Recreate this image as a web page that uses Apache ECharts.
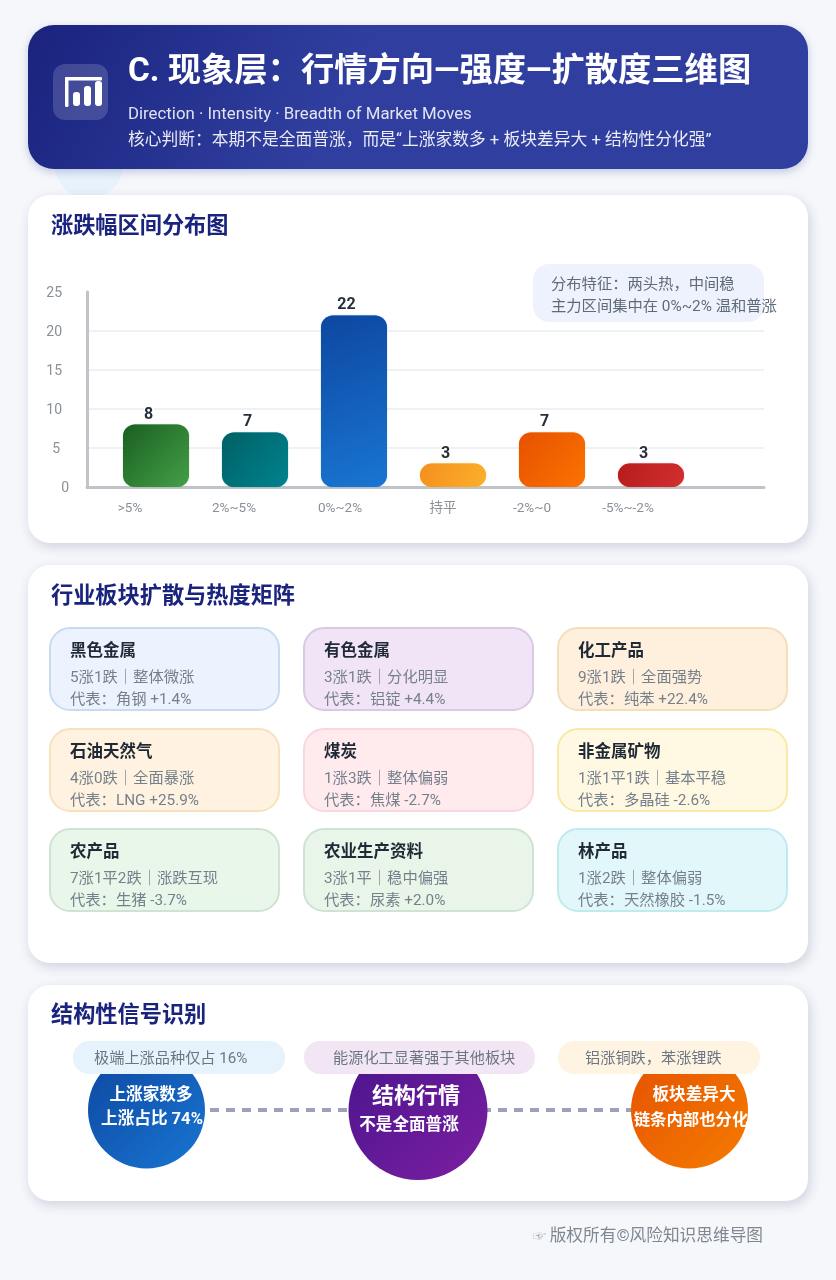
<!DOCTYPE html>
<html>
<head>
<meta charset="utf-8">
<title>行情方向-强度-扩散度三维图</title>
<script src="https://cdn.jsdelivr.net/npm/echarts@6/dist/echarts.min.js"></script>
<style>
  html, body { margin: 0; padding: 0; background: #f5f7fb; }
  #main { width: 836px; height: 1280px; }
</style>
</head>
<body>
<div id="main"></div>
<script>
// 涨跌幅区间
const categories = ['>5%', '2%~5%', '0%~2%', '持平', '-2%~0', '-5%~-2%']
const counts = [8, 7, 22, 3, 7, 3]
const yTicks = [0, 5, 10, 15, 20, 25]
const barColors = [
  ['#1b5e20', '#43a047'],
  ['#006064', '#00838f'],
  ['#0d47a1', '#1976d2'],
  ['#f58f1f', '#fbb02a'],
  ['#e65100', '#fb7300'],
  ['#b71c1c', '#d32f2f']
]

// 行业板块
const sectorNames = ['黑色金属', '有色金属', '化工产品', '石油天然气', '煤炭', '非金属矿物', '农产品', '农业生产资料', '林产品']
const sectorStats = ['5涨1跌｜整体微涨', '3涨1跌｜分化明显', '9涨1跌｜全面强势', '4涨0跌｜全面暴涨', '1涨3跌｜整体偏弱', '1涨1平1跌｜基本平稳', '7涨1平2跌｜涨跌互现', '3涨1平｜稳中偏强', '1涨2跌｜整体偏弱']
const sectorReps = ['代表：角钢 +1.4%', '代表：铝锭 +4.4%', '代表：纯苯 +22.4%', '代表：LNG +25.9%', '代表：焦煤 -2.7%', '代表：多晶硅 -2.6%', '代表：生猪 -3.7%', '代表：尿素 +2.0%', '代表：天然橡胶 -1.5%']
const sectorFills = ['#ecf3fe', '#f1e4f6', '#fff0dd', '#fff2e1', '#ffeaee', '#fff9e3', '#e9f6ea', '#e9f5e9', '#e2f7fa']
const sectorBorders = ['#c8dcf0', '#d9c9e2', '#f3dfb9', '#f6e2bf', '#f8d7de', '#f8e9a8', '#cfe3d4', '#cfe3d4', '#bfeaee']

// 结构性信号
const pillTexts = ['极端上涨品种仅占 16%', '能源化工显著强于其他板块', '铝涨铜跌，苯涨锂跌']

const font = 'Roboto, "Noto Sans CJK SC", sans-serif'

function diag (c0, c1) {
  return new echarts.graphic.LinearGradient(0, 0, 1, 1, [
    { offset: 0, color: c0 },
    { offset: 1, color: c1 }
  ])
}

function text (x, y, str, size, fill, weight, align) {
  return {
    type: 'text',
    z: 10,
    style: {
      x: x,
      y: y + 1,
      text: str,
      font: (weight || 'normal') + ' ' + size + 'px ' + font,
      fill: fill,
      align: align || 'left',
      verticalAlign: 'middle'
    }
  }
}

function roundRect (x, y, w, h, r, style, z) {
  return { type: 'rect', z: z || 1, shape: { x: x, y: y, width: w, height: h, r: r }, style: style }
}

function circle (cx, cy, r, fill, z) {
  return { type: 'circle', z: z || 1, shape: { cx: cx, cy: cy, r: r }, style: { fill: fill } }
}

const cardShadow = { fill: '#fff', shadowColor: 'rgba(40,50,90,0.18)', shadowBlur: 12, shadowOffsetX: 2, shadowOffsetY: 4 }

let graphics = [
  circle(89, 165, 34, '#e8f2fb', 0),
  // 顶部标题
  roundRect(28, 25, 780, 144, 26, {
    fill: new echarts.graphic.LinearGradient(0, 0, 0.35, 1, [
      { offset: 0, color: '#1a237e' },
      { offset: 1, color: '#303f9f' }
    ]),
    shadowColor: 'rgba(40,55,140,0.25)',
    shadowBlur: 8,
    shadowOffsetY: 3
  }, 2),
  roundRect(53, 64, 55, 56, 12, { fill: 'rgba(255,255,255,0.16)' }, 3),
  // 标题图标
  roundRect(65, 77, 37, 3.5, 1, { fill: '#fff' }, 4),
  roundRect(65, 77, 3.5, 30, 1.5, { fill: '#fff' }, 4),
  roundRect(73, 92, 7, 14, 3, { fill: '#fff' }, 4),
  roundRect(84, 86, 7, 20, 3, { fill: '#fff' }, 4),
  roundRect(95, 81, 7, 25, 3, { fill: '#fff' }, 4),
  text(128, 72, 'C. 现象层：行情方向—强度—扩散度三维图', 33.3, '#fff', 'bold'),
  text(128, 114, 'Direction · Intensity · Breadth of Market Moves', 16.8, 'rgba(255,255,255,0.86)'),
  text(128, 140, '核心判断：本期不是全面普涨，而是“上涨家数多 + 板块差异大 + 结构性分化强”', 16.75, 'rgba(255,255,255,0.9)'),

  // 三张白卡片
  roundRect(28, 195, 780, 348, 22, cardShadow, 1),
  roundRect(28, 565, 780, 398, 22, cardShadow, 1),
  roundRect(28, 985, 780, 216, 22, cardShadow, 1),
  text(51, 226, '涨跌幅区间分布图', 22.2, '#1a237e', 'bold'),
  text(51, 596, '行业板块扩散与热度矩阵', 22.2, '#1a237e', 'bold'),
  text(51, 1015, '结构性信号识别', 22.2, '#1a237e', 'bold'),

  // 分布特征说明
  roundRect(533, 264, 231, 58, 16, { fill: '#eef2fd' }, 6),
  text(551, 284, '分布特征：两头热，中间稳', 15.3, '#5f6b7a'),
  text(551, 306, '主力区间集中在 0%~2% 温和普涨', 15.3, '#5f6b7a'),

  // 版权
  text(533, 1236, '☞', 13, '#a5abb3'),
  text(763, 1236, '版权所有©风险知识思维导图', 16.7, '#7f8790', 'normal', 'right')
]

// 板块矩阵
const colX = [50, 304, 558]
const rowY = [628, 729, 829]
sectorNames.forEach((name, i) => {
  let x = colX[i % 3]
  let y = rowY[Math.floor(i / 3)]
  graphics.push(roundRect(x, y, 229, 82, 20, { fill: sectorFills[i], stroke: sectorBorders[i], lineWidth: 2 }, 2))
  graphics.push(text(x + 20, y + 23, name, 16.5, '#1f2a36', 'bold'))
  graphics.push(text(x + 20, y + 49, sectorStats[i], 15.3, '#76808c'))
  graphics.push(text(x + 20, y + 71, sectorReps[i], 15.3, '#76808c'))
})

// 信号节点
graphics.push({
  type: 'line',
  z: 2,
  shape: { x1: 146, y1: 1110, x2: 689, y2: 1110 },
  style: { stroke: '#9aa3b8', lineWidth: 4, lineDash: [9, 7] }
})
graphics.push(circle(146.5, 1110, 58.5, diag('#0d47a1', '#1976d2'), 3))
graphics.push(circle(418, 1110.5, 69.5, diag('#4a148c', '#7b1fa2'), 3))
graphics.push(circle(689.5, 1110, 58.5, diag('#e65100', '#f57c00'), 3))
graphics.push(text(151, 1095, '上涨家数多', 16.6, '#fff', 'bold', 'center'))
graphics.push(text(152, 1119, '上涨占比 74%', 16.6, '#fff', 'bold', 'center'))
graphics.push(text(416, 1096, '结构行情', 22, '#fff', 'bold', 'center'))
graphics.push(text(409, 1125, '不是全面普涨', 16.6, '#fff', 'bold', 'center'))
graphics.push(text(694, 1095, '板块差异大', 16.6, '#fff', 'bold', 'center'))
graphics.push(text(691, 1120, '链条内部也分化', 16.4, '#fff', 'bold', 'center'))

const pills = [
  { x: 73, w: 212, fill: '#e6f3fc', tx: 94 },
  { x: 304, w: 231, fill: '#f2e6f5', tx: 333 },
  { x: 558, w: 202, fill: '#fff4e2', tx: 585 }
]
pills.forEach((p, i) => {
  graphics.push(roundRect(p.x, 1041, p.w, 33, 16, { fill: p.fill }, 5))
  graphics.push(text(p.tx, 1058, pillTexts[i], 15.2, '#6c7683'))
})

// 横轴标签相对柱子中心的偏移
const labelShift = [-26, -21, -14, -10, -20, -23]
// 纵轴标签往左的偏移，0 和 5 在原图没有对齐
const tickPad = { 0: 0, 5: 9 }

const option = {
  animation: false,
  textStyle: { fontFamily: font },
  graphic: { elements: graphics },
  grid: [
    // 底层：坐标轴和分隔线
    { left: 87, width: 677, top: 292, height: 195, z: 2 },
    // 上层：柱子，柱距 99
    { left: 106.5, width: 594, top: 292, height: 195, z: 3 }
  ],
  xAxis: [
    {
      type: 'category',
      gridIndex: 0,
      data: categories,
      axisLine: { show: true, lineStyle: { color: '#c0c4c8', width: 3 } },
      axisTick: { show: false },
      axisLabel: { show: false },
      z: 3
    },
    {
      type: 'category',
      gridIndex: 1,
      data: categories,
      axisLine: { show: false },
      axisTick: { show: false },
      z: 5,
      axisLabel: {
        interval: 0,
        hideOverlap: false,
        margin: 15,
        color: '#8a9098',
        fontSize: 13.5,
        // 原图标签没有对齐柱子，用左右 padding 挪开
        formatter: (value, index) => '{s' + index + '|' + value + '}',
        rich: Object.fromEntries(labelShift.map((d, i) => ['s' + i, {
          color: '#8a9098',
          fontSize: 13.5,
          fontFamily: font,
          padding: [0, -2 * d, 0, 0]
        }]))
      }
    }
  ],
  yAxis: [
    {
      type: 'value',
      gridIndex: 0,
      min: yTicks[0],
      max: yTicks[yTicks.length - 1],
      interval: yTicks[1] - yTicks[0],
      axisLine: { show: true, lineStyle: { color: '#c0c4c8', width: 3 } },
      axisTick: { show: false },
      splitLine: { showMaxLine: false, lineStyle: { color: '#eef1f5', width: 2 } },
      axisLabel: {
        margin: 18,
        align: 'right',
        formatter: v => '{t' + v + '|' + v + '}',
        rich: Object.fromEntries(yTicks.map(v => ['t' + v, {
          color: '#8a9098',
          fontSize: 14,
          fontFamily: font,
          padding: [2, v in tickPad ? tickPad[v] : 7, 0, 0]
        }]))
      },
      z: 3
    },
    {
      type: 'value',
      gridIndex: 1,
      min: yTicks[0],
      max: yTicks[yTicks.length - 1],
      interval: yTicks[1] - yTicks[0],
      show: false
    }
  ],
  series: [
    {
      type: 'bar',
      xAxisIndex: 1,
      yAxisIndex: 1,
      barWidth: 66,
      z: 4,
      data: counts.map((v, i) => ({
        value: v,
        itemStyle: {
          color: diag(barColors[i][0], barColors[i][1]),
          borderRadius: 12,
          shadowColor: barColors[i][1],
          shadowBlur: 1
        }
      })),
      label: {
        show: true,
        position: 'top',
        offset: [-7.5, 0],
        distance: 2,
        color: '#26303b',
        fontSize: 16,
        fontWeight: 'bold',
        fontFamily: font,
        textBorderColor: '#fff',
        textBorderWidth: 3
      }
    }
  ]
}

let myChart = echarts.init(document.getElementById('main'))
myChart.setOption(option)
</script>
</body>
</html>
